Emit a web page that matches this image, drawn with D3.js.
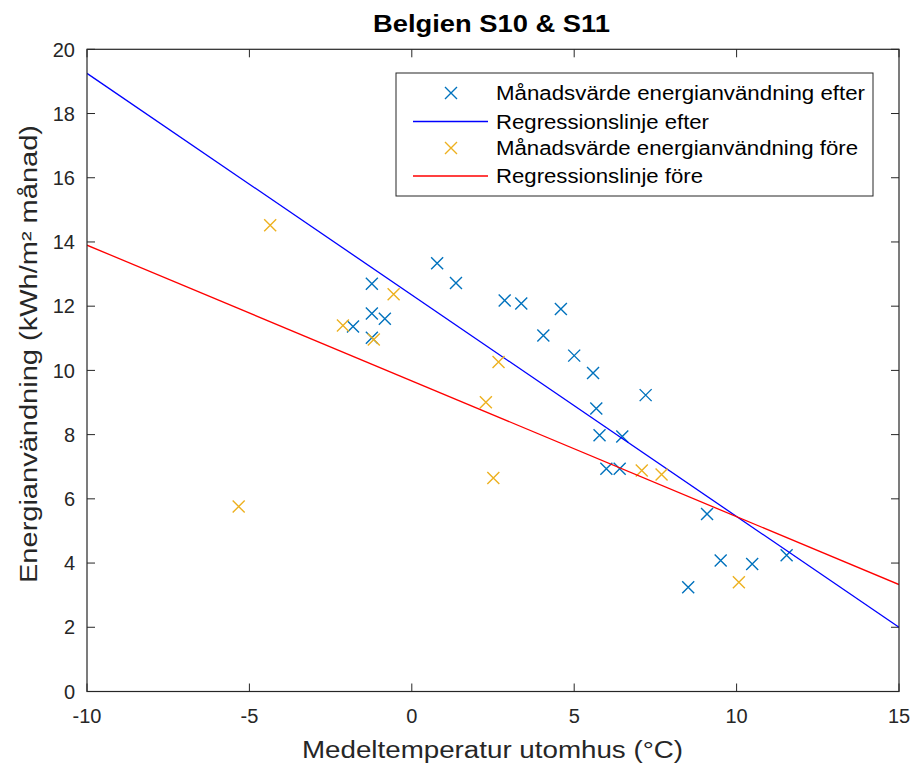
<!DOCTYPE html>
<html><head><meta charset="utf-8">
<script src="https://cdn.jsdelivr.net/npm/d3@7"></script>
<style>body{margin:0;background:#fff}text{font-family:"Liberation Sans",Arial,Helvetica,sans-serif}</style>
</head><body><svg id="c" width="915" height="767"></svg>
<script>
// Data
const efterX = [-1.81,-1.23,-1.23,-1.23,-0.83,0.78,1.36,2.86,3.37,4.59,4.05,5.0,5.58,7.20,5.68,5.78,6.48,5.99,6.40,9.09,9.51,10.48,11.54,8.51];
const efterY = [11.37,12.70,11.77,11.02,11.61,13.34,12.72,12.18,12.08,11.91,11.09,10.46,9.92,9.23,8.81,7.98,7.94,6.94,6.94,5.53,4.08,3.97,4.24,3.25];
const foreX = [-4.36,-2.12,-1.17,-5.33,-0.56,2.67,2.28,7.08,7.69,2.51,10.07];
const foreY = [14.52,11.40,10.96,5.76,12.37,10.26,9.01,6.88,6.76,6.65,3.40];
// Regression lines: [slope, intercept]
const regEfter = [-0.69, 12.35];
const regFore = [-0.4228, 9.672];
const xTicks = [-10,-5,0,5,10,15];
const yTicks = [0,2,4,6,8,10,12,14,16,18,20];
const legendLabels = ["Månadsvärde energianvändning efter","Regressionslinje efter","Månadsvärde energianvändning före","Regressionslinje före"];

const svg = d3.select("#c");
const L=87, R=899, T=49.3, B=691.5;
const x = d3.scaleLinear().domain([-10,15]).range([L,R]);
const y = d3.scaleLinear().domain([0,20]).range([B,T]);
const axCol = "#262626";

// ticks inside, on all four sides
const g = svg.append("g");
xTicks.forEach(t=>{
  g.append("line").attr("x1",x(t)).attr("x2",x(t)).attr("y1",B).attr("y2",B-8).attr("stroke",axCol);
  g.append("line").attr("x1",x(t)).attr("x2",x(t)).attr("y1",T).attr("y2",T+8).attr("stroke",axCol);
  g.append("text").attr("x",x(t)).attr("y",723).attr("text-anchor","middle").attr("font-size",20).attr("fill",axCol).text(t);
});
yTicks.forEach(t=>{
  g.append("line").attr("x1",L).attr("x2",L+8).attr("y1",y(t)).attr("y2",y(t)).attr("stroke",axCol);
  g.append("line").attr("x1",R).attr("x2",R-8).attr("y1",y(t)).attr("y2",y(t)).attr("stroke",axCol);
  g.append("text").attr("x",75).attr("y",y(t)).attr("dy","0.36em").attr("text-anchor","end").attr("font-size",20).attr("fill",axCol).text(t);
});

// clip
svg.append("clipPath").attr("id","cp").append("rect").attr("x",L).attr("y",T).attr("width",R-L).attr("height",B-T);
const pg = svg.append("g").attr("clip-path","url(#cp)");

function regLine(c, col){
  const xs = x.domain();
  pg.append("line").attr("x1",x(xs[0])).attr("y1",y(c[0]*xs[0]+c[1]))
    .attr("x2",x(xs[1])).attr("y2",y(c[0]*xs[1]+c[1])).attr("stroke",col).attr("stroke-width",1.3);
}
function cross(sel, cx, cy, col){
  const s=6;
  sel.append("path").attr("d",`M${cx-s},${cy-s}L${cx+s},${cy+s}M${cx-s},${cy+s}L${cx+s},${cy-s}`)
    .attr("stroke",col).attr("stroke-width",1.4).attr("fill","none");
}
const blueM="#0072BD", orangeM="#EDB120";
efterX.forEach((v,i)=>cross(pg,x(v),y(efterY[i]),blueM));
regLine(regEfter,"#0000FF");
foreX.forEach((v,i)=>cross(pg,x(v),y(foreY[i]),orangeM));
regLine(regFore,"#FF0000");

// box
svg.append("rect").attr("x",L).attr("y",T).attr("width",R-L).attr("height",B-T).attr("fill","none").attr("stroke",axCol).attr("stroke-width",1.2);

// title & labels
svg.append("text").attr("x",491.5).attr("y",32).attr("text-anchor","middle").attr("font-size",24).attr("font-weight","bold").attr("fill","#000")
  .attr("textLength",237).attr("lengthAdjust","spacingAndGlyphs").text("Belgien S10 & S11");
svg.append("text").attr("x",492.5).attr("y",758).attr("text-anchor","middle").attr("font-size",23).attr("fill",axCol)
  .attr("textLength",381).attr("lengthAdjust","spacingAndGlyphs").text("Medeltemperatur utomhus (°C)");
svg.append("text").attr("transform","translate(37,354) rotate(-90)").attr("text-anchor","middle").attr("font-size",23).attr("fill",axCol)
  .attr("textLength",458).attr("lengthAdjust","spacingAndGlyphs").text("Energianvändning (kWh/m² månad)");

// legend
const lg = svg.append("g");
lg.append("rect").attr("x",396).attr("y",73).attr("width",477).attr("height",123).attr("fill","#fff").attr("stroke",axCol).attr("stroke-width",1);
const rowsY=[93,121.5,148,176], widths=[369,213,362,207];
legendLabels.forEach((lab,i)=>{
  const ry=rowsY[i];
  if(i%2===0) cross(lg,451,ry,i===0?blueM:orangeM);
  else lg.append("line").attr("x1",413).attr("x2",488).attr("y1",ry).attr("y2",ry).attr("stroke",i===1?"#0000FF":"#FF0000").attr("stroke-width",1.3);
  lg.append("text").attr("x",496).attr("y",ry).attr("dy","0.36em").attr("font-size",20).attr("fill","#000")
    .attr("textLength",widths[i]).attr("lengthAdjust","spacingAndGlyphs").text(lab);
});
</script></body></html>
